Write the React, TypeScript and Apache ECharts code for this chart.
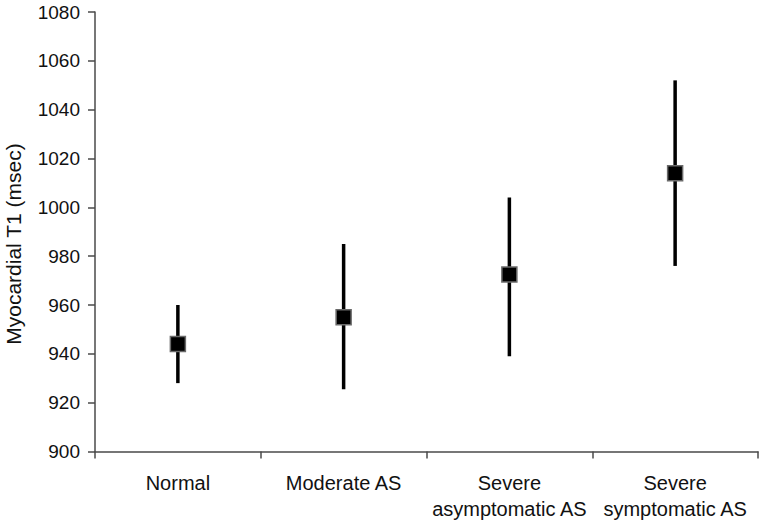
import React, { useEffect, useRef } from "react";
import * as echarts from "echarts";

const categories = ["Normal", "Moderate AS", "Severe\nasymptomatic AS", "Severe\nsymptomatic AS"];
const means = [944, 955, 972.5, 1014];
const lows = [928, 925.5, 939, 976];
const highs = [960, 985, 1004, 1052];
const yTicks = { min: 900, max: 1080, interval: 20 };
const yTitle = "Myocardial T1 (msec)";

const FONT = "Liberation Sans, Arial, sans-serif";

export default function App() {
  const ref = useRef<HTMLDivElement>(null);
  useEffect(() => {
    if (!ref.current) return;
    const chart = echarts.init(ref.current, null, { renderer: "svg" });
    const errData = categories.map((_, i) => [i, lows[i], highs[i]]);
    chart.setOption({
      animation: false,
      backgroundColor: "#ffffff",
      grid: { left: 95, right: 6, top: 12, bottom: 73.5, containLabel: false },
      graphic: [
        {
          type: "text",
          x: 13,
          y: 244,
          rotation: Math.PI / 2,
          style: {
            text: yTitle,
            font: `21px ${FONT}`,
            fill: "#111111",
            align: "center",
            verticalAlign: "middle",
          },
        },
      ],
      xAxis: {
        type: "category",
        data: categories,
        boundaryGap: true,
        axisLine: { lineStyle: { color: "#4a4a4a", width: 1.5 } },
        axisTick: { show: true, length: 7, lineStyle: { color: "#4a4a4a", width: 1.5 } },
        axisLabel: {
          color: "#111111",
          fontFamily: FONT,
          fontSize: 20,
          lineHeight: 26,
          margin: 18,
          interval: 0,
          align: "center",
        },
        splitLine: { show: false },
      },
      yAxis: {
        type: "value",
        min: yTicks.min,
        max: yTicks.max,
        interval: yTicks.interval,
        axisLine: { show: true, lineStyle: { color: "#4a4a4a", width: 1.5 } },
        axisTick: { show: true, length: 7, lineStyle: { color: "#4a4a4a", width: 1.5 } },
        axisLabel: {
          color: "#111111",
          fontFamily: FONT,
          fontSize: 19,
          margin: 15,
          formatter: (v: number) => String(v),
        },
        splitLine: { show: false },
      },
      series: [
        {
          type: "custom",
          data: errData,
          renderItem: (params: any, api: any) => {
            const x = api.value(0);
            const lo = api.coord([x, api.value(1)]);
            const hi = api.coord([x, api.value(2)]);
            return {
              type: "line",
              shape: { x1: lo[0], y1: lo[1], x2: hi[0], y2: hi[1] },
              style: { stroke: "#000000", lineWidth: 3.5 },
            };
          },
          encode: { x: 0, y: [1, 2] },
          z: 2,
        },
        {
          type: "scatter",
          data: means.map((v, i) => [i, v]),
          symbol: "rect",
          symbolSize: 15,
          itemStyle: { color: "#000000", borderColor: "#6a6a6a", borderWidth: 1.5, opacity: 1 },
          z: 3,
        },
      ],
    });
    return () => chart.dispose();
  }, []);
  return <div ref={ref} style={{ width: 764, height: 525, position: "absolute", left: 0, top: 0 }} />;
}
